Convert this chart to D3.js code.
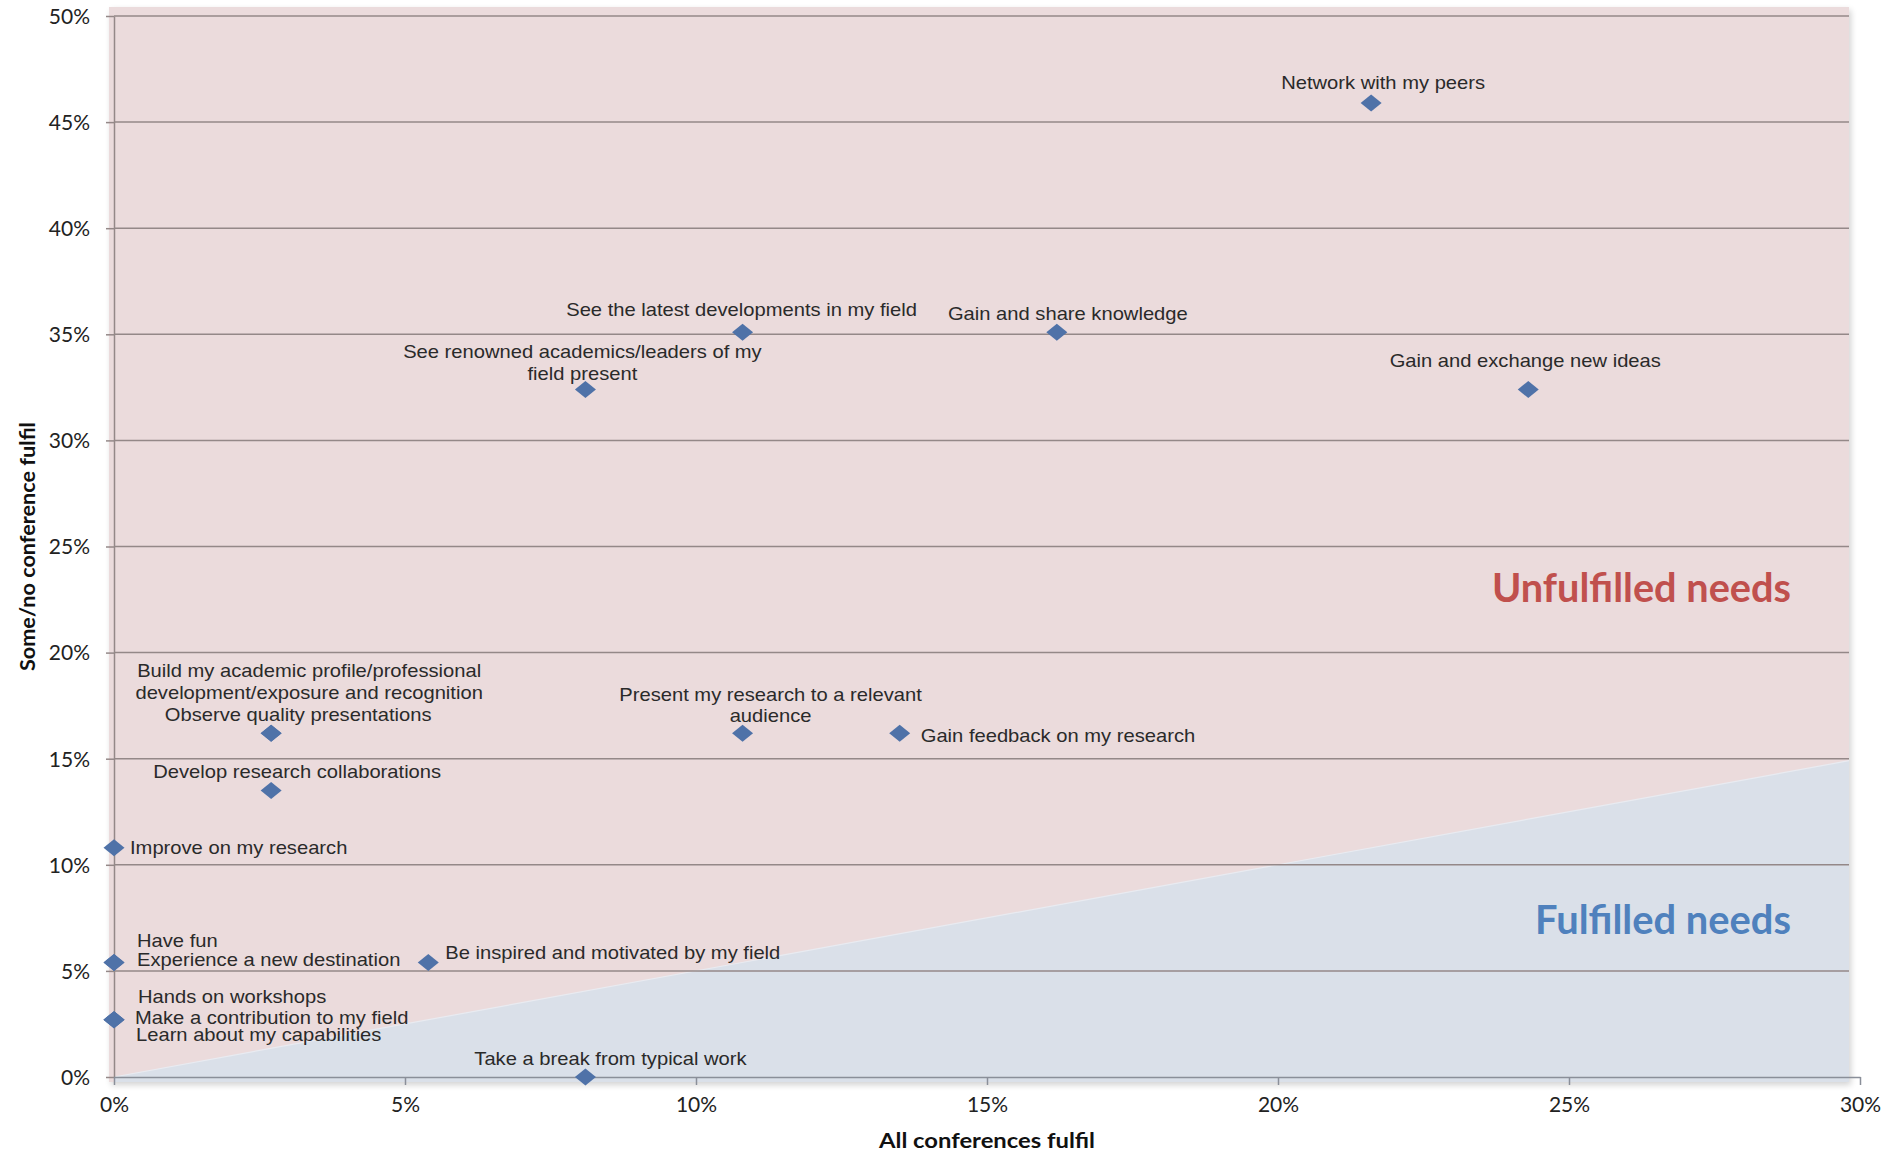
<!DOCTYPE html>
<html>
<head>
<meta charset="utf-8">
<script src="https://cdn.jsdelivr.net/npm/d3@7"></script>
<style>
  html, body { margin: 0; padding: 0; background: #ffffff; }
  svg { display: block; }
</style>
</head>
<body>
<svg id="chart" width="1885" height="1153"></svg>
<script>
// ---------------- data ----------------
const needs = [
  "Network with my peers",
  "See the latest developments in my field",
  "Gain and share knowledge",
  "See renowned academics/leaders of my\nfield present",
  "Gain and exchange new ideas",
  "Build my academic profile/professional\ndevelopment/exposure and recognition",
  "Observe quality presentations",
  "Present my research to a relevant\naudience",
  "Gain feedback on my research",
  "Develop research collaborations",
  "Improve on my research",
  "Have fun",
  "Experience a new destination",
  "Be inspired and motivated by my field",
  "Hands on workshops",
  "Make a contribution to my field",
  "Learn about my capabilities",
  "Take a break from typical work"
];
// "All conferences fulfil" (%)
const allConferencesFulfil = [21.6, 10.8, 16.2, 8.1, 24.3, 2.7, 2.7, 10.8, 13.5, 2.7, 0, 0, 0, 5.4, 0, 0, 0, 8.1];
// "Some/no conference fulfil" (%)
const someNoConferenceFulfil = [45.9, 35.1, 35.1, 32.4, 32.4, 16.2, 16.2, 16.2, 16.2, 13.5, 10.8, 5.4, 5.4, 5.4, 2.7, 2.7, 2.7, 0];

const xTickValues = [0, 5, 10, 15, 20, 25, 30];
const yTickValues = [0, 5, 10, 15, 20, 25, 30, 35, 40, 45, 50];

// fulfilled / unfulfilled boundary line
const boundaryX = [0, 30];
const boundaryY = [0, 15];

const xAxisTitle = "All conferences fulfil";
const yAxisTitle = "Some/no conference fulfil";
const unfulfilledText = "Unfulfilled needs";
const fulfilledText = "Fulfilled needs";

// label placement relative to each point (layout only)
const labelLayout = [
  {dx: 12, dy: -14, anchor: "middle"},
  {dx: -1, dy: -16, anchor: "middle"},
  {dx: 11, dy: -12, anchor: "middle"},
  {dx: -3, dy: -31, anchor: "middle", gap: 22},
  {dx: -3, dy: -22, anchor: "middle"},
  {dx: 38, dy: -56, anchor: "middle", gap: 21.5},
  {dx: 27, dy: -12, anchor: "middle"},
  {dx: 28, dy: -32, anchor: "middle", gap: 21},
  {dx: 21, dy: 9, anchor: "start"},
  {dx: 26, dy: -13, anchor: "middle"},
  {dx: 16, dy: 6, anchor: "start"},
  {dx: 23, dy: -15, anchor: "start"},
  {dx: 23, dy: 4, anchor: "start"},
  {dx: 17, dy: -3, anchor: "start"},
  {dx: 24, dy: -17, anchor: "start"},
  {dx: 21, dy: 4, anchor: "start"},
  {dx: 22, dy: 21, anchor: "start"},
  {dx: 25, dy: -12, anchor: "middle"}
];

// ---------------- drawing ----------------
const svg = d3.select("#chart");
const x = d3.scaleLinear().domain([0, 30]).range([114, 1860]);
const y = d3.scaleLinear().domain([0, 50]).range([1077, 16]);

const bgLeft = 109, bgRight = 1849, bgTop = 7, bgBottom = 1082;
const gridColor = "#948888";

// soft shadow
const defs = svg.append("defs");
const f = defs.append("filter").attr("id", "shadow").attr("x", "-2%").attr("y", "-2%").attr("width", "104%").attr("height", "104%");
f.append("feGaussianBlur").attr("in", "SourceAlpha").attr("stdDeviation", 3);
f.append("feOffset").attr("dx", 2).attr("dy", 3).attr("result", "ob");
f.append("feComponentTransfer").append("feFuncA").attr("type", "linear").attr("slope", 0.18);
const fm = f.append("feMerge");
fm.append("feMergeNode");
fm.append("feMergeNode").attr("in", "SourceGraphic");

defs.append("clipPath").attr("id", "bgclip")
  .append("rect").attr("x", bgLeft).attr("y", bgTop).attr("width", bgRight - bgLeft).attr("height", bgBottom - bgTop);

// pink (unfulfilled) background
svg.append("rect")
  .attr("x", bgLeft).attr("y", bgTop)
  .attr("width", bgRight - bgLeft).attr("height", bgBottom - bgTop)
  .attr("fill", "#ebdbdc")
  .attr("filter", "url(#shadow)");

// blue (fulfilled) area below boundary line
const bPts = boundaryX.map((v, i) => [x(v), y(boundaryY[i])]);
const blue = d3.path();
blue.moveTo(bPts[0][0], bPts[0][1]);
blue.lineTo(bPts[1][0], bPts[1][1]);
blue.lineTo(bPts[1][0], bgBottom);
blue.lineTo(bPts[0][0], bgBottom);
blue.closePath();
svg.append("path")
  .attr("d", blue.toString())
  .attr("fill", "#dae0e9")
  .attr("clip-path", "url(#bgclip)");
svg.append("path")
  .attr("d", d3.line()([bPts[0], bPts[1]]))
  .attr("stroke", "#e9ebf1").attr("stroke-width", 1.2).attr("fill", "none")
  .attr("clip-path", "url(#bgclip)");

// horizontal gridlines
svg.append("g").selectAll("line")
  .data(yTickValues.filter(d => d > 0))
  .join("line")
  .attr("x1", x(0)).attr("x2", bgRight)
  .attr("y1", d => y(d)).attr("y2", d => y(d))
  .attr("stroke", gridColor).attr("stroke-width", 1.5);

// y axis
const yAxis = d3.axisLeft(y).tickValues(yTickValues).tickFormat(d => d + "%").tickSizeInner(8).tickSizeOuter(0).tickPadding(16);
const gy = svg.append("g").attr("transform", `translate(${x(0)},0)`).call(yAxis);
gy.select(".domain").attr("stroke", gridColor).attr("stroke-width", 1.5);
gy.selectAll(".tick line").attr("stroke", gridColor).attr("stroke-width", 1.5);
gy.selectAll(".tick text")
  .attr("font-family", "Lato, 'Open Sans', sans-serif")
  .attr("font-size", 21).attr("fill", "#222").attr("dy", "0.35em");

// x axis
const xAxis = d3.axisBottom(x).tickValues(xTickValues).tickFormat(d => d + "%").tickSizeInner(8).tickSizeOuter(0).tickPadding(12);
const gx = svg.append("g").attr("transform", `translate(0,${y(0)})`).call(xAxis);
gx.select(".domain").attr("stroke", "#8a8f99").attr("stroke-width", 1.5);
gx.selectAll(".tick line").attr("stroke", "#8a8f99").attr("stroke-width", 1.5);
gx.selectAll(".tick text")
  .attr("font-family", "Lato, 'Open Sans', sans-serif")
  .attr("font-size", 21).attr("fill", "#222");

// axis titles
svg.append("text")
  .attr("x", (x(0) + x(30)) / 2).attr("y", 1148)
  .attr("text-anchor", "middle")
  .attr("font-family", "Lato, sans-serif").attr("font-weight", "bold")
  .attr("font-size", 20).attr("fill", "#111")
  .attr("textLength", 216).attr("lengthAdjust", "spacingAndGlyphs")
  .text(xAxisTitle);

svg.append("text")
  .attr("transform", `translate(35,${(y(0) + y(50)) / 2 + 0}) rotate(-90)`)
  .attr("text-anchor", "middle")
  .attr("font-family", "Lato, sans-serif").attr("font-weight", "bold")
  .attr("font-size", 20).attr("fill", "#111")
  .attr("textLength", 249).attr("lengthAdjust", "spacingAndGlyphs")
  .text(yAxisTitle);

// region annotations
svg.append("text")
  .attr("x", 1791).attr("y", 602).attr("text-anchor", "end")
  .attr("font-family", "Lato, sans-serif").attr("font-weight", "bold")
  .attr("font-size", 40).attr("fill", "#c0504d")
  .attr("textLength", 299).attr("lengthAdjust", "spacingAndGlyphs")
  .text(unfulfilledText);
svg.append("text")
  .attr("x", 1791).attr("y", 934).attr("text-anchor", "end")
  .attr("font-family", "Lato, sans-serif").attr("font-weight", "bold")
  .attr("font-size", 40).attr("fill", "#4f81bd")
  .attr("textLength", 256).attr("lengthAdjust", "spacingAndGlyphs")
  .text(fulfilledText);

// points data
const pts = needs.map((name, i) => ({
  name, xv: allConferencesFulfil[i], yv: someNoConferenceFulfil[i], lay: labelLayout[i]
}));

// labels
const lg = svg.append("g");
pts.forEach(p => {
  const px = x(p.xv) + p.lay.dx, py = y(p.yv) + p.lay.dy;
  const lines = p.name.split("\n");
  const t = lg.append("text")
    .attr("transform", `translate(${px},${py}) scale(1.12,1)`)
    .attr("text-anchor", p.lay.anchor)
    .attr("font-family", "'Liberation Sans', Arial, sans-serif")
    .attr("font-size", 18).attr("fill", "#2a2a2a");
  lines.forEach((ln, k) => {
    t.append("tspan").attr("x", 0).attr("y", k * (p.lay.gap || 21)).text(ln);
  });
});

// diamond markers
const diamond = "M0,-8.5L10.5,0L0,8.5L-10.5,0Z";
svg.append("g").selectAll("path")
  .data(pts)
  .join("path")
  .attr("d", diamond)
  .attr("transform", d => `translate(${x(d.xv)},${y(d.yv)})`)
  .attr("fill", "#4f72a8");
</script>
</body>
</html>
